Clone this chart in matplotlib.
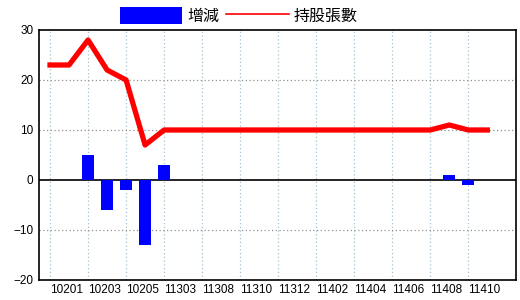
import matplotlib
matplotlib.use("Agg")
import matplotlib.pyplot as plt
from matplotlib.patches import Patch
from matplotlib.lines import Line2D

plt.rcParams['font.family'] = ['Liberation Sans', 'Noto Sans CJK TC', 'DejaVu Sans']

# 月份 (民國年月)
months = ['10201', '10202', '10203', '10204', '10205', '11302', '11303', '11305',
          '11308', '11309', '11310', '11311', '11312', '11401', '11402', '11403',
          '11404', '11405', '11406', '11407', '11408', '11409', '11410', '11411']
# 持股張數
holdings = [23, 23, 28, 22, 20, 7, 10, 10, 10, 10, 10, 10, 10, 10, 10, 10,
            10, 10, 10, 10, 10, 11, 10, 10]
# 增減
change = [0, 0, 5, -6, -2, -13, 3, 0, 0, 0, 0, 0, 0, 0, 0, 0,
          0, 0, 0, 0, 0, 1, -1, 0]

x = list(range(len(months)))

fig = plt.figure(figsize=(5.2, 3.0), dpi=100)
ax = fig.add_axes([0.075, 0.0667, 0.917, 0.8333])

# gridlines
for i in x[::2]:
    ax.axvline(i, color='#a6c0d2', linestyle=(0, (1, 2)), linewidth=0.9, zorder=0)
for v in [20, 10, -10]:
    ax.axhline(v, color='#909090', linestyle=(0, (1, 2)), linewidth=0.9, zorder=0)
ax.axhline(0, color='black', linewidth=1.2, zorder=1)

ax.bar(x, change, width=0.63, color='#0000ff', zorder=2)
ax.plot(x, holdings, color='#ff0000', linewidth=3.8, solid_joinstyle='round', zorder=3)

ax.set_xlim(-0.58, 24.5)
ax.set_ylim(-20, 30)
ax.set_yticks([30, 20, 10, 0, -10, -20])
ax.set_xticks(x[::2])
ax.set_xticklabels(months[::2], ha='left')
ax.tick_params(axis='both', length=0, labelsize=8.5, colors='black')
ax.tick_params(axis='x', pad=3)
ax.tick_params(axis='y', pad=4)
for s in ax.spines.values():
    s.set_linewidth(1.2)
    s.set_color('black')

handles = [Patch(facecolor='#0000ff', edgecolor='none'),
           Line2D([0], [0], color='#ff0000', linewidth=1.2)]
fig.legend(handles, ['增減', '持股張數'], loc='center', bbox_to_anchor=(0.459, 0.947),
           ncol=2, frameon=False, handlelength=3.9, handleheight=1.3,
           handletextpad=0.3, columnspacing=0.45, borderpad=0,
           prop={'family': ['Noto Sans CJK TC'], 'size': 11.5})

fig.savefig('out.png', dpi=100)
